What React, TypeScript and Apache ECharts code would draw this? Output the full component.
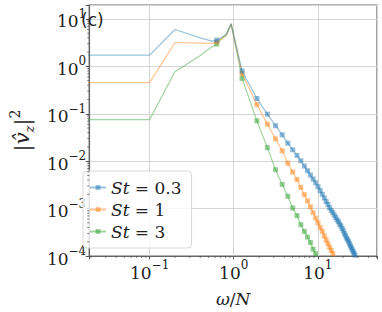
import React, { useEffect, useRef } from "react";
import * as echarts from "echarts";

// line-only vertices (no marker)
const shapeFreq = [0.01, 0.1, 0.2, 0.4, 0.55, 0.82, 0.93];
const blueShape = [1.72, 1.72, 6.0, 4.0, 3.4, 4.7, 7.9];
const orangeShape = [0.454, 0.454, 3.19, 3.1, 3.05, 4.4, 7.9];
const greenShape = [0.0755, 0.0755, 0.77, 1.7, 2.6, 4.9, 7.9];

// marker frequencies
const markerFreq = [
  0.628, 1.257, 1.885, 2.513, 3.142, 3.77, 4.398, 5.027, 5.655, 6.283, 6.912, 7.54, 8.168, 8.796, 9.425,
  10.05, 10.68, 11.31, 11.94, 12.57, 13.19, 13.82, 14.45, 15.08, 15.71, 16.34, 16.96, 17.59, 18.22, 18.85,
  19.48, 20.11, 20.73, 21.36, 21.99, 22.62, 23.25, 23.88, 24.5, 25.13, 25.76, 26.39, 27.02, 27.65, 28.27,
];
const blueMarks = [
  3.57, 0.8, 0.21, 0.098, 0.056, 0.036, 0.024, 0.0174, 0.0132, 0.0102, 0.0079, 0.0063, 0.0051, 0.0042, 0.0035,
  0.0029, 0.0024, 0.002, 0.00168, 0.00142, 0.00122, 0.00104, 0.00092, 0.00082, 0.00073, 0.00065, 0.00058,
  0.00053, 0.00047, 0.00043, 0.00038, 0.00034, 0.0003, 0.00027, 0.00024, 0.00022, 0.0002, 0.00018, 0.000163,
  0.000148, 0.000135, 0.000124, 0.000113, 0.000104, 0.000096,
];
const orangeMarks = [
  3.29, 0.706, 0.156, 0.0604, 0.0296, 0.0166, 0.0091, 0.0059, 0.0041, 0.0028, 0.00197, 0.00145, 0.00109,
  0.00082, 0.00063, 0.0005, 0.0004, 0.00033, 0.000266, 0.000219, 0.000183, 0.000153, 0.000131, 0.000112,
  0.0000964,
];
const greenMarks = [
  2.94, 0.557, 0.071, 0.0193, 0.0066, 0.00324, 0.00182, 0.00103, 0.00071, 0.000457, 0.000331, 0.000251,
  0.000193, 0.000139, 0.000112, 0.000093,
];

const stLabels = ["0.3", "1", "3"];
const colors = ["#1f77b4", "#ff7f0e", "#2ca02c"];

const xMinorTicks = [
  0.02, 0.03, 0.04, 0.05, 0.06, 0.07, 0.08, 0.09, 0.2, 0.3, 0.4, 0.5, 0.6, 0.7, 0.8, 0.9, 2, 3, 4, 5, 6, 7, 8, 9,
  20, 30, 40, 50,
];
const yMinorTicks = [
  0.0002, 0.0003, 0.0004, 0.0005, 0.0006, 0.0007, 0.0008, 0.0009, 0.002, 0.003, 0.004, 0.005, 0.006, 0.007,
  0.008, 0.009, 0.02, 0.03, 0.04, 0.05, 0.06, 0.07, 0.08, 0.09, 0.2, 0.3, 0.4, 0.5, 0.6, 0.7, 0.8, 0.9, 2, 3, 4,
  5, 6, 7, 8, 9,
];

const X_MIN = 0.0191;
const X_MAX = 50.6;
const Y_MIN = 0.0001;
const Y_MAX = 19.7;

const SERIF = "DejaVu Serif";

function buildData(shape: number[], marks: number[]) {
  const pts: any[] = [];
  shapeFreq.forEach((f, i) => pts.push({ value: [f, shape[i]], symbol: "none" }));
  markerFreq.slice(0, marks.length).forEach((f, i) => pts.push({ value: [f, marks[i]] }));
  pts.sort((a, b) => a.value[0] - b.value[0]);
  return pts;
}

function pow10Label(v: number) {
  const e = Math.log10(v);
  const r = Math.round(e);
  if (Math.abs(e - r) > 1e-6) return "";
  const exp = r < 0 ? "\u2212" + Math.abs(r) : String(r);
  return `{b|10}{s|${exp}}`;
}

const labelRich = {
  b: { fontFamily: SERIF, fontSize: 17, color: "#222", lineHeight: 22, verticalAlign: "bottom" },
  s: { fontFamily: SERIF, fontSize: 12, color: "#222", lineHeight: 22, verticalAlign: "top" },
};

export default function App() {
  const ref = useRef<HTMLDivElement>(null);
  useEffect(() => {
    if (!ref.current) return;
    const chart = echarts.init(ref.current, null, { renderer: "svg" });
    const seriesSets = [blueShape, orangeShape, greenShape];
    const markSets = [blueMarks, orangeMarks, greenMarks];
    const lineSeries = stLabels.map((st, i) => ({
      name: `St = ${st}`,
      type: "line",
      data: buildData(seriesSets[i], markSets[i]),
      symbol: "rect",
      symbolSize: 5,
      showAllSymbol: true,
      color: colors[i],
      lineStyle: { width: 1.2, opacity: 0.45, color: colors[i] },
      itemStyle: { opacity: 0.5, color: colors[i] },
      emphasis: { disabled: true },
      z: 3 + (2 - i),
    }));
    const minorData: number[][] = [];
    xMinorTicks.forEach((v) => minorData.push([v, Y_MIN, 0]));
    yMinorTicks.forEach((v) => minorData.push([X_MIN, v, 1]));
    const option: any = {
      animation: false,
      grid: {
        left: 72,
        right: 5,
        top: 5,
        bottom: 51,
        show: true,
        borderColor: "#666",
        borderWidth: 1.2,
        backgroundColor: "transparent",
      },
      xAxis: {
        type: "log",
        logBase: 10,
        min: X_MIN,
        max: X_MAX,
        splitNumber: 3,
        axisLine: { show: true, lineStyle: { color: "#666", width: 1.2 } },
        axisTick: { show: true, length: 3.5, lineStyle: { color: "#555" } },
        axisLabel: { formatter: pow10Label, rich: labelRich, margin: 3, color: "#222" },
        splitLine: { show: true, lineStyle: { color: "#d4d4d4", width: 1 } },
        name: "{i|ω}{n|/}{i|N}",
        nameLocation: "middle",
        nameGap: 34,
        nameTextStyle: {
          rich: {
            i: { fontFamily: SERIF, fontStyle: "italic", fontSize: 17, color: "#222" },
            n: { fontFamily: SERIF, fontSize: 17, color: "#222" },
          },
        },
      },
      yAxis: {
        type: "log",
        logBase: 10,
        min: Y_MIN,
        max: Y_MAX,
        axisLine: { show: true, lineStyle: { color: "#666", width: 1.2 } },
        axisTick: { show: true, length: 3.5, lineStyle: { color: "#555" } },
        axisLabel: { formatter: pow10Label, rich: labelRich, margin: 3, color: "#222" },
        splitLine: { show: true, lineStyle: { color: "#d4d4d4", width: 1 } },
        name: "{a||}{v|v\u0302}{z|z}{a||}{p|2}",
        nameLocation: "middle",
        nameGap: 42,
        nameRotate: 90,
        nameTextStyle: {
          rich: {
            a: { fontFamily: SERIF, fontSize: 21, color: "#222", lineHeight: 28, verticalAlign: "middle" },
            v: { fontFamily: SERIF, fontStyle: "italic", fontSize: 21, color: "#222", lineHeight: 28, verticalAlign: "middle" },
            z: { fontFamily: SERIF, fontStyle: "italic", fontSize: 13, color: "#222", lineHeight: 28, verticalAlign: "bottom" },
            p: { fontFamily: SERIF, fontSize: 14, color: "#222", lineHeight: 28, verticalAlign: "top" },
          },
        },
      },
      legend: {
        orient: "vertical",
        left: 83,
        top: 171,
        data: stLabels.map((s) => `St = ${s}`),
        itemWidth: 16,
        itemHeight: 6,
        itemGap: 5,
        padding: [8, 10, 8, 6],
        borderColor: "#d8d8d8",
        borderWidth: 1,
        borderRadius: 4,
        backgroundColor: "rgba(255,255,255,0.8)",
        formatter: (name: string) => {
          const v = name.replace("St = ", "");
          return `{i|St}{t| = ${v}}`;
        },
        textStyle: {
          rich: {
            i: { fontFamily: SERIF, fontStyle: "italic", fontSize: 17, color: "#222", lineHeight: 18 },
            t: { fontFamily: SERIF, fontSize: 17, color: "#222", lineHeight: 18 },
          },
        },
      },
      graphic: [
        {
          type: "text",
          x: 81,
          y: 11,
          z: 20,
          style: {
            text: "(c)",
            fontFamily: "DejaVu Sans",
            fontSize: 17,
            fill: "#222",
            align: "left",
            verticalAlign: "top",
          },
        },
      ],
      series: [
        ...lineSeries,
        {
          type: "custom",
          data: minorData,
          clip: false,
          silent: true,
          z: 10,
          renderItem: (params: any, api: any) => {
            const p = api.coord([api.value(0), api.value(1)]);
            const isX = api.value(2) === 0;
            return {
              type: "line",
              shape: isX
                ? { x1: p[0], y1: p[1], x2: p[0], y2: p[1] + 2 }
                : { x1: p[0], y1: p[1], x2: p[0] - 2, y2: p[1] },
              style: { stroke: "#555", lineWidth: 0.8 },
            };
          },
        },
      ],
    };
    chart.setOption(option);
    return () => chart.dispose();
  }, []);
  return <div ref={ref} style={{ width: 382, height: 312, position: "absolute", left: 0, top: 0 }} />;
}
